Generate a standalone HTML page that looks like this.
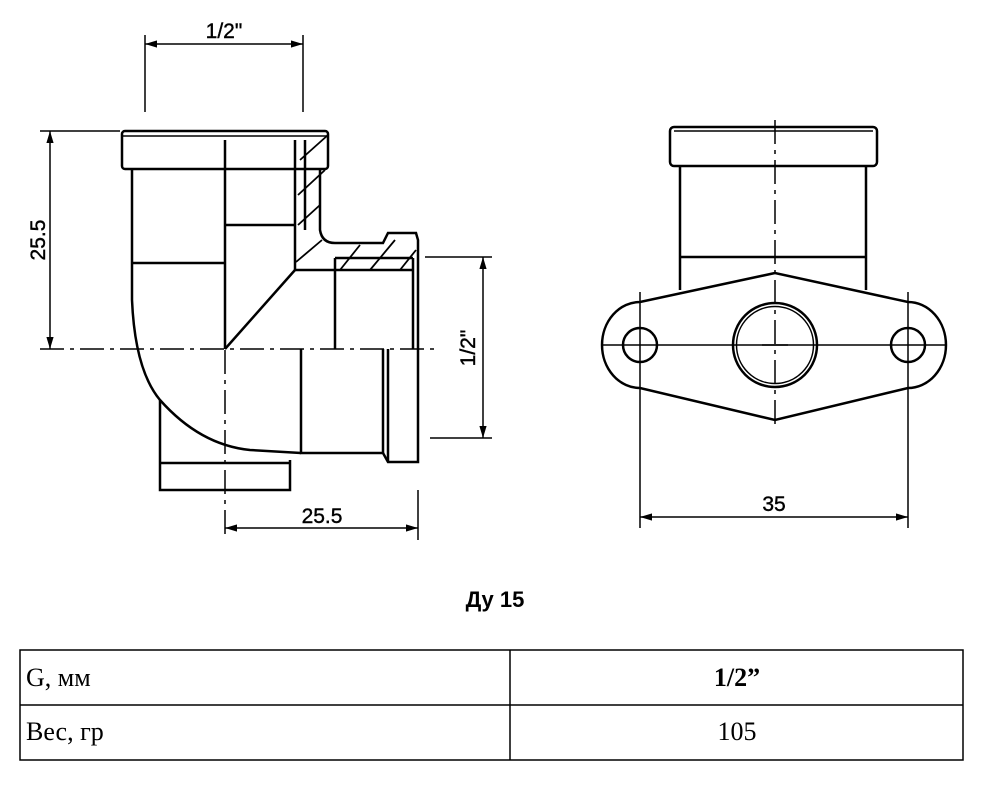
<!DOCTYPE html>
<html><head><meta charset="utf-8"><style>
body{margin:0;background:#fff;width:990px;height:804px;overflow:hidden}
svg{position:absolute;left:0;top:0}
</style></head><body>
<svg width="990" height="804" viewBox="0 0 990 804" font-family="Liberation Sans, sans-serif">
<defs><marker id="a" viewBox="0 0 10 6" refX="10" refY="3" markerWidth="8" markerHeight="5" orient="auto-start-reverse"><path d="M0,0L10,3L0,6z" fill="#000"/></marker></defs>
<g stroke="#000" fill="none" stroke-width="2.5">
<rect x="122" y="131" width="206" height="38" rx="3"/>
<line x1="122" y1="136" x2="328" y2="136" stroke-width="1.5"/>
<path d="M132,170 L132,300 Q135,370 160,400 Q200,445 250,450 L301,453"/>
<line x1="132" y1="263" x2="225" y2="263"/>
<line x1="225" y1="140" x2="225" y2="349"/>
<line x1="225" y1="225" x2="295" y2="225"/>
<line x1="295" y1="140" x2="295" y2="270"/>
<line x1="305" y1="140" x2="305" y2="230"/>
<line x1="225" y1="349" x2="295" y2="270"/>
<path d="M320,170 L320,230 Q322,243 335,243 L383,243 L388,233 L416,233 L418,240 L418,462 L388,462 L383,453 L301,453 L301,349"/>
<line x1="295" y1="270" x2="413" y2="270"/>
<line x1="335" y1="258" x2="413" y2="258"/>
<line x1="335" y1="258" x2="335" y2="349"/>
<line x1="413" y1="258" x2="413" y2="349"/>
<line x1="383" y1="349" x2="383" y2="453"/>
<line x1="388" y1="349" x2="388" y2="462"/>
<path d="M160,400 L160,490 L290,490 L290,460" />
<line x1="160" y1="463" x2="290" y2="463"/>
<g stroke-width="1.8">
<line x1="300" y1="160" x2="328" y2="135"/><line x1="298" y1="195" x2="325" y2="170"/><line x1="298" y1="225" x2="320" y2="205"/><line x1="296" y1="262" x2="322" y2="240"/>
<line x1="340" y1="270" x2="360" y2="245"/><line x1="370" y1="270" x2="395" y2="240"/><line x1="400" y1="270" x2="416" y2="250"/>
</g>
<g stroke-width="1.5" stroke-dasharray="24,6,4,6">
<line x1="40" y1="349" x2="440" y2="349"/>
<line x1="225" y1="350" x2="225" y2="540"/>
<line x1="775" y1="120" x2="775" y2="430"/>
</g>
<rect x="670" y="127" width="207" height="39" rx="4"/>
<line x1="674" y1="131" x2="873" y2="131" stroke-width="1.5"/>
<path d="M680,166 L680,290 M866,166 L866,290"/>
<line x1="680" y1="257" x2="866" y2="257"/>
<path d="M775,273 L640,302 A38 43 0 0 0 640,388 L775,420 L908,388 A38 43 0 0 0 908,302 Z"/>
<circle cx="640" cy="345" r="17"/><circle cx="908" cy="345" r="17"/>
<circle cx="775" cy="345" r="42"/><circle cx="775" cy="345" r="38.5" stroke-width="1.5"/>
<g stroke-width="1.5">
<line x1="603" y1="345" x2="945" y2="345"/>
<line x1="640" y1="292" x2="640" y2="528"/><line x1="908" y1="292" x2="908" y2="528"/>
<line x1="762" y1="345" x2="788" y2="345"/>
<line x1="145" y1="35" x2="145" y2="112"/><line x1="303" y1="35" x2="303" y2="112"/>
<line x1="145" y1="44" x2="303" y2="44" marker-start="url(#a)" marker-end="url(#a)"/>
<line x1="40" y1="131" x2="120" y2="131"/>
<line x1="50" y1="131" x2="50" y2="349" marker-start="url(#a)" marker-end="url(#a)"/>
<line x1="425" y1="257" x2="492" y2="257"/><line x1="430" y1="438" x2="492" y2="438"/>
<line x1="483" y1="257" x2="483" y2="438" marker-start="url(#a)" marker-end="url(#a)"/>
<line x1="418" y1="490" x2="418" y2="540"/>
<line x1="225" y1="528" x2="418" y2="528" marker-start="url(#a)" marker-end="url(#a)"/>
<line x1="640" y1="517" x2="908" y2="517" marker-start="url(#a)" marker-end="url(#a)"/>
</g>
</g>
<g font-size="21" fill="#000" stroke="#000" stroke-width="0.4">
<text x="224" y="38" text-anchor="middle">1/2"</text>
<text x="45" y="240" text-anchor="middle" transform="rotate(-90 45 240)">25.5</text>
<text x="475" y="348" text-anchor="middle" transform="rotate(-90 475 348)">1/2"</text>
<text x="322" y="523" text-anchor="middle">25.5</text>
<text x="774" y="511" text-anchor="middle">35</text>
</g>
<text x="495" y="607" text-anchor="middle" font-size="22" font-weight="bold">Ду 15</text>
<g stroke="#000" stroke-width="1.5" fill="none">
<rect x="20" y="650" width="943" height="110"/>
<line x1="20" y1="705" x2="963" y2="705"/>
<line x1="510" y1="650" x2="510" y2="760"/>
</g>
<g font-family="Liberation Serif, serif" font-size="26" fill="#000">
<text x="26" y="686">G, мм</text>
<text x="737" y="686" text-anchor="middle" font-weight="bold">1/2”</text>
<text x="26" y="740">Вес, гр</text>
<text x="737" y="740" text-anchor="middle">105</text>
</g>
</svg>
</body></html>
